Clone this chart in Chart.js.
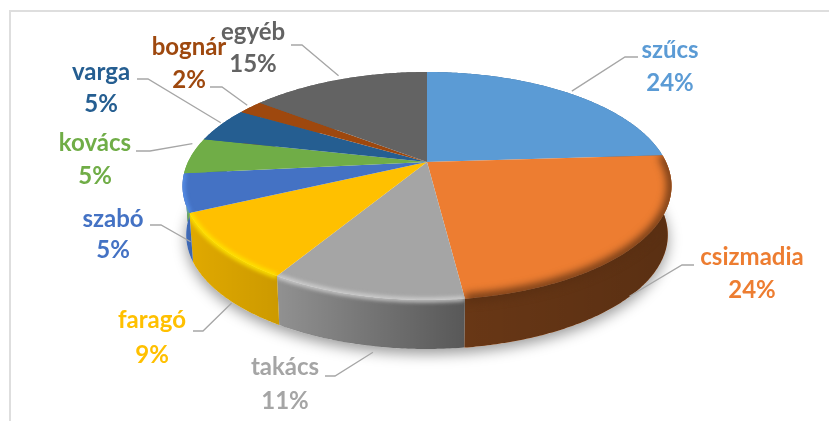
<!DOCTYPE html>
<html lang="hu">
<head>
<meta charset="utf-8">
<title>Mesterségek</title>
<script src="https://cdn.jsdelivr.net/npm/chart.js@4"></script>
<style>
    html, body { margin: 0; padding: 0; background: #fff; overflow: hidden; }
    #frame { position: absolute; left: 9px; top: 10px; width: 830px; height: 420px;
             border-left: 2px solid #dedede; border-top: 2px solid #dedede; }
    #pie { position: absolute; left: 0; top: 0; }
</style>
</head>
<body>
<div id="frame"></div>
<canvas id="pie" width="829" height="421"></canvas>
<script>
// Chart data
const categories = ['szűcs', 'csizmadia', 'takács', 'faragó', 'szabó', 'kovács', 'varga', 'bognár', 'egyéb'];
const shares = [24, 24, 10.6, 9.4, 5.4, 5.1, 5, 2, 14.5];
const sliceColors = ['#5B9BD5', '#ED7D31', '#A5A5A5', '#FFC000', '#4472C4', '#70AD47', '#255E91', '#9E480E', '#636363'];

// Label placement: text centre, two baselines, leader elbow and end, which rim the leader touches
const labelLayout = [
    { x: 670, nameY: 58, pctY: 91, elbow: [625, 57], end: [638, 57], z: 0, nudge: [3, -2] },
    { x: 752, nameY: 265, pctY: 298, elbow: [682, 265], end: [694, 265], z: 1, nudge: [-7, 5] },
    { x: 285, nameY: 375, pctY: 409, elbow: [335, 376], end: [325, 376], z: 1, nudge: [7, 7] },
    { x: 152, nameY: 328, pctY: 363, elbow: [203, 331], end: [193, 331], z: 1, nudge: [8, 7] },
    { x: 113, nameY: 227, pctY: 258, elbow: [161, 225], end: [150, 225], z: 1, nudge: [4, 0] },
    { x: 95, nameY: 151, pctY: 184, elbow: [150, 151], end: [136, 151], z: 0, nudge: [1, -12] },
    { x: 101, nameY: 80, pctY: 112, elbow: [148, 79], end: [137, 79], z: 0, nudge: [0, -2] },
    { x: 189, nameY: 55, pctY: 88, elbow: [222, 87], end: [210, 87], z: 0, nudge: [-3, -2] },
    { x: 253, nameY: 40, pctY: 72, elbow: [302, 45], end: [291, 45], z: 0, nudge: [0, -4] }
];

// Side wall shading, black alpha at the left and right end of each slice
const sideShade = [[0.3, 0.3], [0.56, 0.62], [0.12, 0.47], [0.12, 0.2], [0.05, 0.1], [0, 0], [0, 0], [0, 0], [0, 0]];
// Glow or dark band along the rim of each slice
const rimStyle = [
    null,
    { color: '#5a2f12', width: 8, blur: 4 },
    { color: '#d6d6d6', width: 4, blur: 2 },
    { color: '#ffe400', width: 5, blur: 2 },
    { color: '#5a95f0', width: 4, blur: 2 },
    null, null, null, null
];

// Perspective of the tilted disc
const CX = 427, APEX_Y = 162, SCALE_X = 239, SCALE_Y = 74.84, TILT = -0.2105, DEPTH = 49;

function project(theta, z) {
    const u = Math.sin(theta), v = -Math.cos(theta);
    const w = 1 + TILT * v;
    const x = CX + (SCALE_X * u / w) * (1 - 0.015 * z);
    const y = (SCALE_Y * v + APEX_Y) / w + DEPTH * z;
    return [x, y];
}

function traceRim(ctx, from, to, z) {
    const steps = Math.max(2, Math.ceil(Math.abs(to - from) / 0.01));
    for (let i = 0; i <= steps; i++) {
        const p = project(from + (to - from) * i / steps, z);
        ctx.lineTo(p[0], p[1]);
    }
}

function topPath(ctx, a, b) {
    ctx.moveTo(CX, APEX_Y);
    traceRim(ctx, a, b, 0);
    ctx.closePath();
}

function sidePath(ctx, a, b) {
    const p = project(a, 0);
    ctx.moveTo(p[0], p[1]);
    traceRim(ctx, a, b, 0);
    traceRim(ctx, b, a, 1);
    ctx.closePath();
}

// Draws the arcs the pie controller computed as a disc seen at an angle
const tiltedPie = {
    id: 'tiltedPie',
    beforeDatasetsDraw(chart) {
        const ctx = chart.ctx;
        const arcs = chart.getDatasetMeta(0).data;
        const turns = arcs.map(arc => [arc.startAngle + Math.PI / 2, arc.endAngle + Math.PI / 2]);

        // soft shadow under the pie
        ctx.save();
        ctx.shadowColor = 'rgba(0,0,0,0.4)';
        ctx.shadowBlur = 14;
        ctx.shadowOffsetY = 5;
        ctx.fillStyle = '#fff';
        ctx.beginPath();
        traceRim(ctx, 0, Math.PI * 2, 1);
        ctx.closePath();
        ctx.fill();
        ctx.restore();

        turns.forEach(([a, b], i) => {
            ctx.beginPath();
            sidePath(ctx, a, b);
            ctx.fillStyle = sliceColors[i];
            ctx.fill();
            const xa = project(a, 0)[0], xb = project(b, 0)[0];
            const g = ctx.createLinearGradient(Math.min(xa, xb), 0, Math.max(xa, xb) + 1, 0);
            g.addColorStop(0, `rgba(0,0,0,${sideShade[i][0]})`);
            g.addColorStop(1, `rgba(0,0,0,${sideShade[i][1]})`);
            ctx.fillStyle = g;
            ctx.fill();
        });

        turns.forEach(([a, b], i) => {
            ctx.beginPath();
            topPath(ctx, a, b);
            ctx.fillStyle = sliceColors[i];
            ctx.fill();
        });

        turns.forEach(([a, b], i) => {
            const rim = rimStyle[i];
            if (!rim) return;
            ctx.save();
            ctx.beginPath();
            topPath(ctx, a, b);
            sidePath(ctx, a, b);
            ctx.clip();
            ctx.filter = `blur(${rim.blur}px)`;
            ctx.strokeStyle = rim.color;
            ctx.lineWidth = rim.width;
            ctx.beginPath();
            const p = project(a, 0);
            ctx.moveTo(p[0], p[1]);
            traceRim(ctx, a, b, 0);
            ctx.stroke();
            ctx.restore();
        });
        return false;
    },
    afterDraw(chart) {
        const ctx = chart.ctx;
        const arcs = chart.getDatasetMeta(0).data;
        ctx.save();
        ctx.textAlign = 'center';
        ctx.textBaseline = 'alphabetic';
        ctx.font = 'bold 24px Lato';
        labelLayout.forEach((lab, i) => {
            const mid = (arcs[i].startAngle + arcs[i].endAngle) / 2 + Math.PI / 2;
            const start = project(mid, lab.z);
            ctx.strokeStyle = '#a6a6a6';
            ctx.lineWidth = 1.3;
            ctx.beginPath();
            ctx.moveTo(start[0] + lab.nudge[0], start[1] + lab.nudge[1]);
            ctx.lineTo(lab.elbow[0], lab.elbow[1]);
            ctx.lineTo(lab.end[0], lab.end[1]);
            ctx.stroke();

            ctx.fillStyle = sliceColors[i];
            ctx.fillText(categories[i], lab.x, lab.nameY);
            ctx.fillText(Math.round(shares[i]) + '%', lab.x, lab.pctY);
        });
        ctx.restore();
    }
};

new Chart(document.getElementById('pie'), {
    type: 'pie',
    data: {
        labels: categories,
        datasets: [{ data: shares, backgroundColor: sliceColors, borderWidth: 0 }]
    },
    options: {
        responsive: false,
        animation: false,
        plugins: { legend: { display: false }, tooltip: { enabled: false } }
    },
    plugins: [tiltedPie]
});
</script>
</body>
</html>
